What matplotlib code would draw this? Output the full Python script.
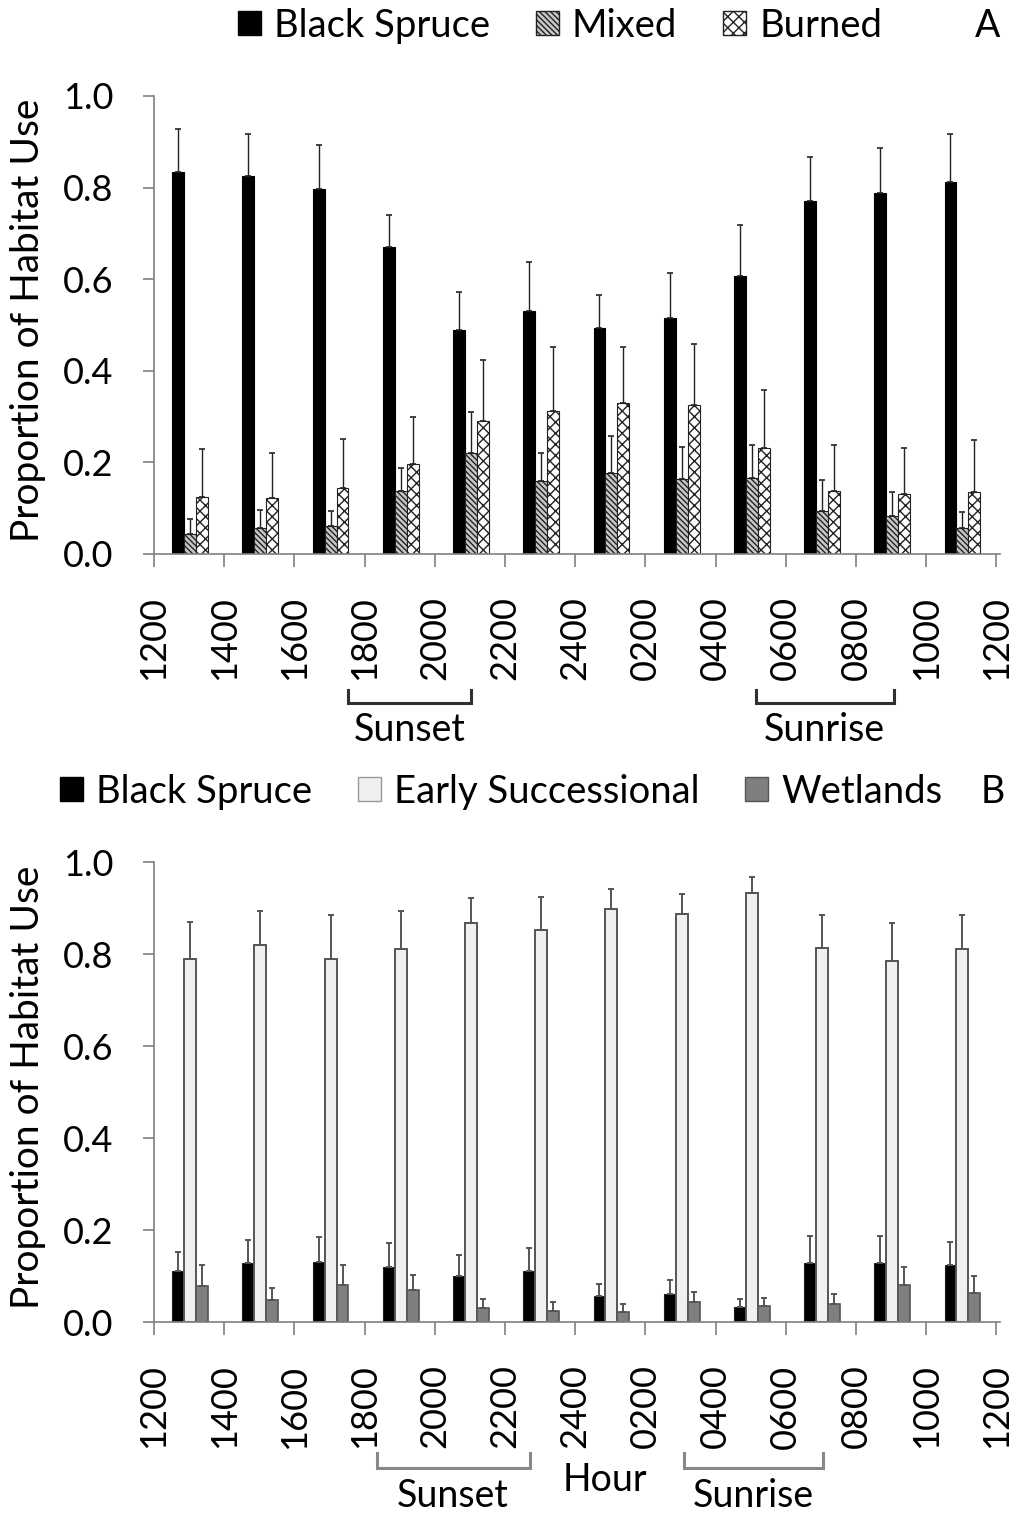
import numpy as np
import matplotlib
matplotlib.use('Agg')
import matplotlib.pyplot as plt
from matplotlib.patches import Patch
from matplotlib.ticker import FormatStrFormatter

plt.rcParams['font.family'] = ['Lato', 'DejaVu Sans']
plt.rcParams['hatch.linewidth'] = 1.0

# tick labels (hour of day, bin edges)
hours = ['1200', '1400', '1600', '1800', '2000', '2200', '2400',
         '0200', '0400', '0600', '0800', '1000', '1200']

# panel A : proportion of habitat use (mean) and upper SE
spruce_a = [0.833, 0.825, 0.798, 0.671, 0.490, 0.531, 0.494, 0.515, 0.608, 0.771, 0.789, 0.812]
spruce_a_se = [0.096, 0.093, 0.095, 0.069, 0.081, 0.106, 0.072, 0.098, 0.111, 0.096, 0.097, 0.106]
mixed_a = [0.044, 0.057, 0.061, 0.138, 0.220, 0.160, 0.177, 0.163, 0.165, 0.094, 0.083, 0.057]
mixed_a_se = [0.032, 0.039, 0.033, 0.050, 0.090, 0.060, 0.081, 0.070, 0.073, 0.068, 0.052, 0.035]
burned_a = [0.125, 0.122, 0.144, 0.196, 0.290, 0.312, 0.330, 0.325, 0.231, 0.137, 0.131, 0.135]
burned_a_se = [0.104, 0.098, 0.107, 0.102, 0.133, 0.141, 0.123, 0.133, 0.127, 0.101, 0.101, 0.114]

# panel B
spruce_b = [0.110, 0.128, 0.130, 0.120, 0.101, 0.112, 0.057, 0.061, 0.033, 0.129, 0.129, 0.124]
spruce_b_se = [0.043, 0.050, 0.055, 0.051, 0.045, 0.050, 0.025, 0.030, 0.018, 0.057, 0.059, 0.051]
early_b = [0.789, 0.819, 0.789, 0.811, 0.867, 0.853, 0.899, 0.888, 0.932, 0.813, 0.785, 0.811]
early_b_se = [0.081, 0.074, 0.096, 0.082, 0.055, 0.072, 0.043, 0.042, 0.036, 0.072, 0.083, 0.075]
wet_b = [0.079, 0.048, 0.081, 0.069, 0.031, 0.025, 0.022, 0.044, 0.035, 0.039, 0.080, 0.064]
wet_b_se = [0.045, 0.027, 0.042, 0.034, 0.018, 0.018, 0.018, 0.022, 0.018, 0.022, 0.039, 0.036]

x = np.arange(len(spruce_a))
w = 0.17
offs = [0.345, 0.515, 0.685]

fig = plt.figure(figsize=(10.18, 15.14), dpi=100)
axA = fig.add_axes([0.1513, 0.6341, 0.831, 0.3025])
axB = fig.add_axes([0.1513, 0.1268, 0.831, 0.3038])


def upper(se):
    return [np.zeros(len(se)), se]


def style_axis(ax, spine_col):
    ax.set_xlim(0, 12.05)
    ax.set_ylim(0, 1.0)
    for s in ['top', 'right']:
        ax.spines[s].set_visible(False)
    for s in ['left', 'bottom']:
        ax.spines[s].set_color(spine_col)
        ax.spines[s].set_linewidth(1.2)
    ax.set_yticks(np.arange(0, 1.01, 0.2))
    ax.yaxis.set_major_formatter(FormatStrFormatter('%.1f'))
    ax.set_xticks(np.arange(13))
    ax.set_xticklabels(hours, rotation=90, fontsize=26)
    ax.tick_params(axis='x', direction='out', length=9.5, width=1.2, color=spine_col, pad=21)
    ax.tick_params(axis='y', direction='out', length=8, width=1.2, color=spine_col, pad=21, labelsize=26)
    ax.set_ylabel('Proportion of Habitat Use', fontsize=28)
    ax.yaxis.set_label_coords(-0.128, 0.51)


def bracket(ax, x0, x1, ytop, ybot, col):
    tr = ax.get_xaxis_transform()
    ax.plot([x0, x0, x1, x1], [ytop, ybot, ybot, ytop], color=col, lw=2.2,
            transform=tr, clip_on=False, solid_joinstyle='miter')


# ---- panel A
mixed_hatch = '\\\\\\\\\\\\'
ek = dict(ecolor='#222222', elinewidth=1.0, capsize=2.5, capthick=1.2)
axA.bar(x + offs[0], spruce_a, w, color='black', edgecolor='black', lw=0.8,
        yerr=upper(spruce_a_se), error_kw=ek)
axA.bar(x + offs[1], mixed_a, w, color='#c8c8c8', edgecolor='#222222', lw=0.8,
        hatch=mixed_hatch, yerr=upper(mixed_a_se), error_kw=ek)
axA.bar(x + offs[2], burned_a, w, color='white', edgecolor='#222222', lw=0.8,
        hatch='xxx', yerr=upper(burned_a_se), error_kw=ek)
style_axis(axA, '#808080')
bracket(axA, 2.77, 4.51, -0.297, -0.325, '#303030')
bracket(axA, 8.57, 10.54, -0.297, -0.325, '#303030')
axA.text(3.64, -0.384, 'Sunset', transform=axA.get_xaxis_transform(),
         ha='center', va='center', fontsize=27)
axA.text(9.55, -0.384, 'Sunrise', transform=axA.get_xaxis_transform(),
         ha='center', va='center', fontsize=27)

hA = [Patch(facecolor='black', edgecolor='black', label='Black Spruce'),
      Patch(facecolor='#c8c8c8', edgecolor='#222222', hatch=mixed_hatch, label='Mixed'),
      Patch(facecolor='white', edgecolor='#222222', hatch='xxx', label='Burned')]
fig.legend(handles=hA, loc='center left', bbox_to_anchor=(0.234, 0.983), ncol=3,
           frameon=False, fontsize=27.5, handlelength=0.6, handleheight=0.6,
           handletextpad=0.34, columnspacing=1.2, borderaxespad=0, borderpad=0)
fig.text(0.970, 0.983, 'A', ha='center', va='center', fontsize=27)

# ---- panel B
ekb = dict(ecolor='#555555', elinewidth=1.4, capsize=2.5, capthick=1.4)
axB.bar(x + offs[0], spruce_b, w, color='black', edgecolor='#222222', lw=0.8,
        yerr=upper(spruce_b_se), error_kw=ekb)
axB.bar(x + offs[1], early_b, w, color='#f0f0f0', edgecolor='#555555', lw=1.4,
        yerr=upper(early_b_se), error_kw=ekb)
axB.bar(x + offs[2], wet_b, w, color='#7f7f7f', edgecolor='#555555', lw=1.2,
        yerr=upper(wet_b_se), error_kw=ekb)
style_axis(axB, '#808080')
bracket(axB, 3.17, 5.36, -0.285, -0.317, '#888888')
bracket(axB, 7.55, 9.53, -0.285, -0.317, '#888888')
axB.text(4.25, -0.378, 'Sunset', transform=axB.get_xaxis_transform(),
         ha='center', va='center', fontsize=27)
axB.text(8.53, -0.378, 'Sunrise', transform=axB.get_xaxis_transform(),
         ha='center', va='center', fontsize=27)
axB.text(6.43, -0.343, 'Hour', transform=axB.get_xaxis_transform(),
         ha='center', va='center', fontsize=27)

hB = [Patch(facecolor='black', edgecolor='black', label='Black Spruce'),
      Patch(facecolor='#f0f0f0', edgecolor='#999999', label='Early Successional'),
      Patch(facecolor='#7f7f7f', edgecolor='#555555', label='Wetlands')]
fig.legend(handles=hB, loc='center left', bbox_to_anchor=(0.059, 0.477), ncol=3,
           frameon=False, fontsize=27.5, handlelength=0.6, handleheight=0.6,
           handletextpad=0.34, columnspacing=1.2, borderaxespad=0, borderpad=0)
fig.text(0.975, 0.477, 'B', ha='center', va='center', fontsize=27)

fig.savefig('out.png', dpi=100)
